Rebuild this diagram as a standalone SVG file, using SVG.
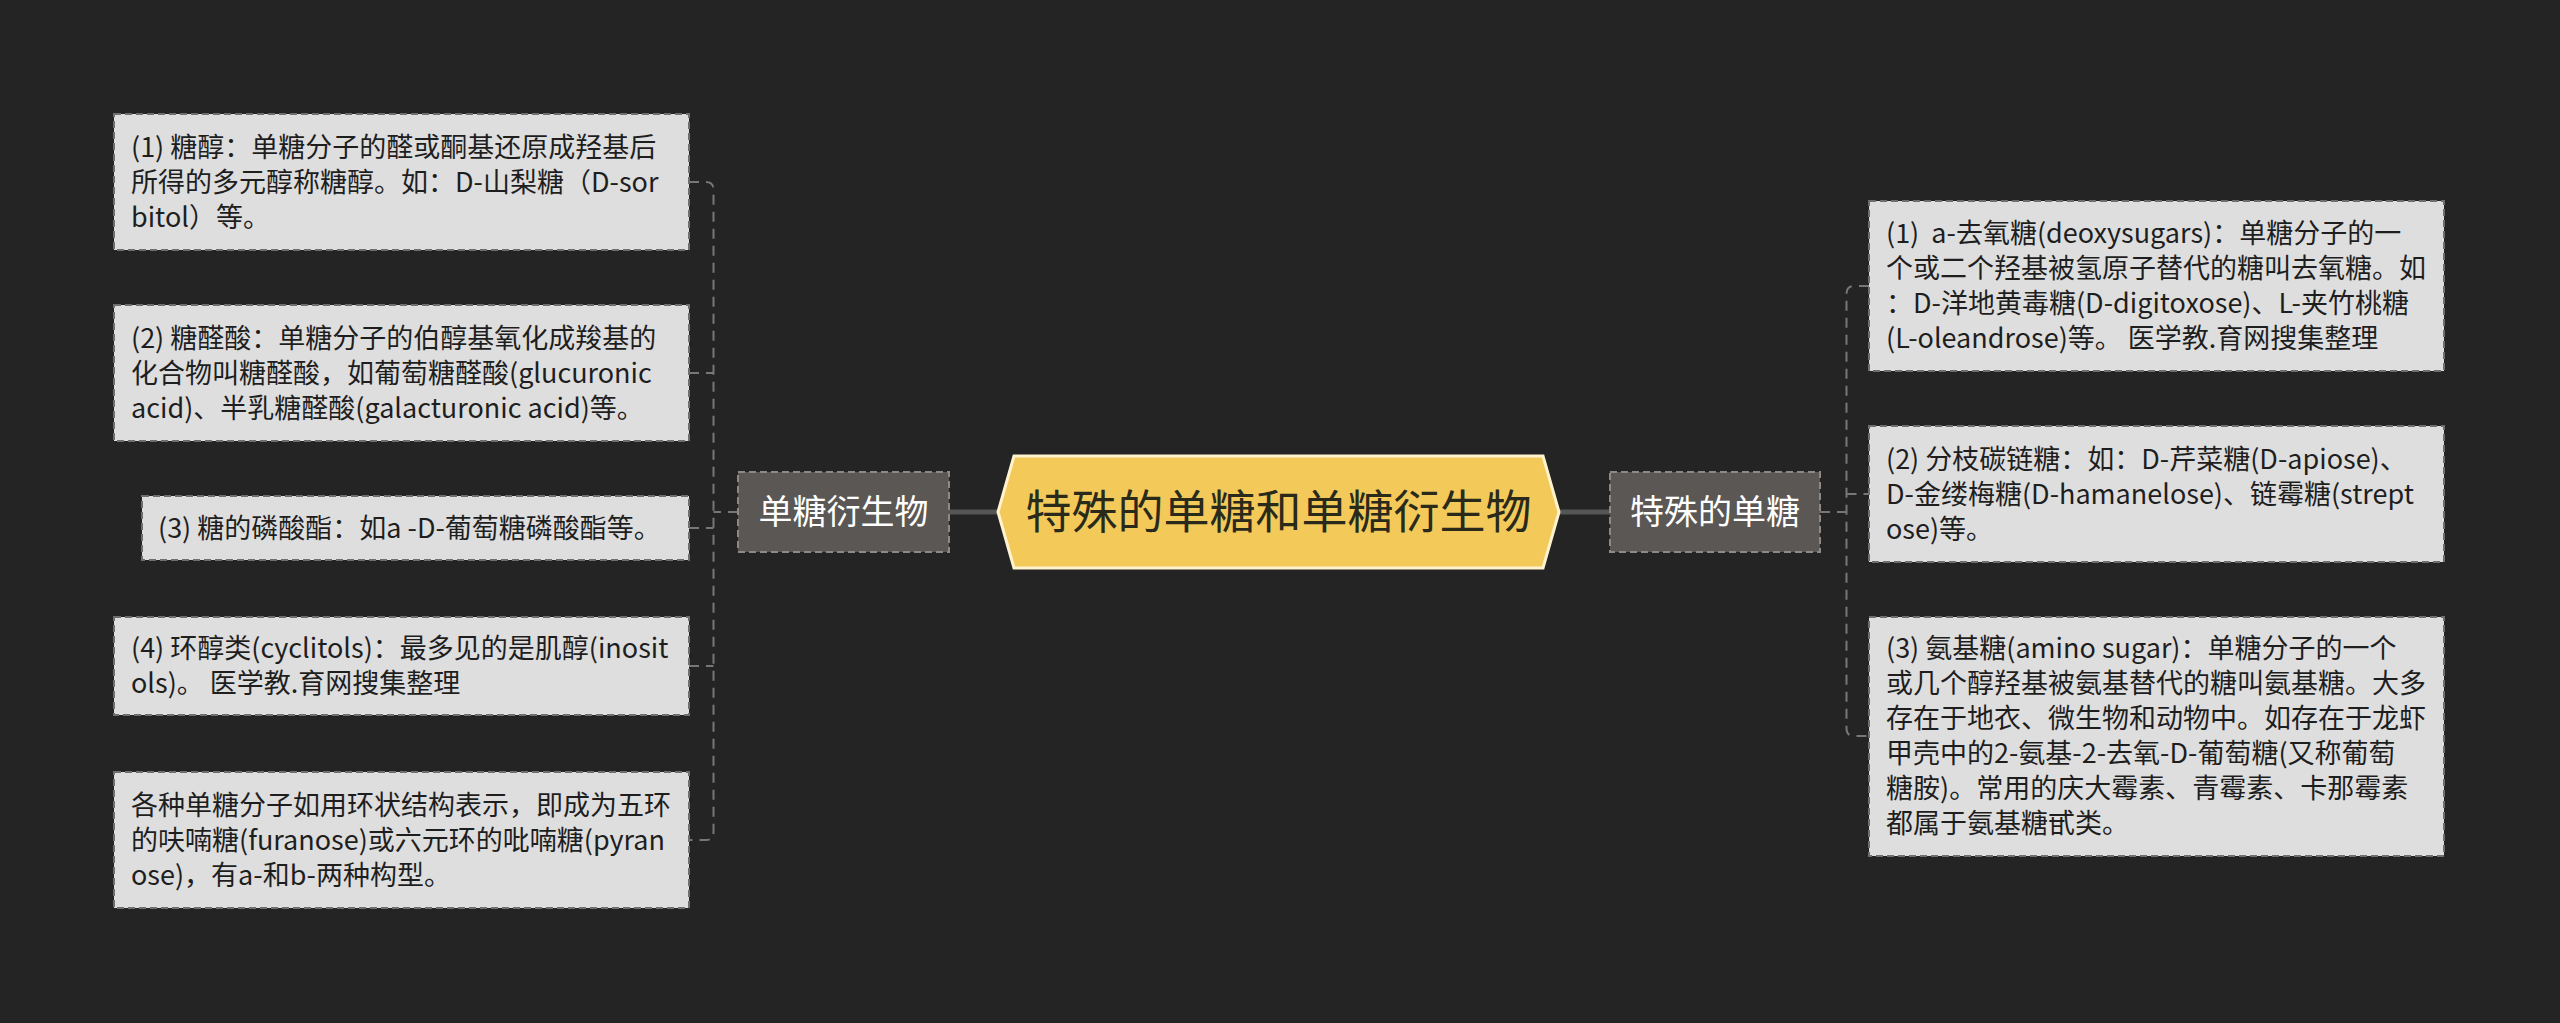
<svg xmlns="http://www.w3.org/2000/svg" width="2560" height="1023" viewBox="0 0 2560 1023">
<style>
.bg{fill:#242424}
.leaf{fill:#dedede;stroke:#6e6e6e;stroke-width:2;stroke-dasharray:7 4}
.lt{font-family:"Noto Sans CJK SC","Noto Sans",sans-serif;font-size:27px;fill:#1e1e1e}
.mid{fill:#5a5755;stroke:#8c8986;stroke-width:2;stroke-dasharray:7 4}
.mt{font-family:"Noto Sans CJK SC","Noto Sans",sans-serif;font-size:34px;fill:#ffffff;text-anchor:middle}
.ct{font-family:"Noto Sans CJK SC","Noto Sans",sans-serif;font-size:46px;fill:#2a2a1a;text-anchor:middle}
.dash{fill:none;stroke:#777;stroke-width:2;stroke-dasharray:10 7}
.thick{fill:none;stroke:#555;stroke-width:5}
</style>
<rect class="bg" x="0" y="0" width="2560" height="1023"/>
<g id="connectors">
<line class="thick" x1="949" y1="512" x2="998" y2="512"/>
<line class="thick" x1="1559" y1="512" x2="1610" y2="512"/>
<path class="dash" d="M738 512 H713.5 M689 182 H706 Q713.5 182 713.5 190 V832 Q713.5 840 706 840 H689 M689 373 H713.5 M689 528 H713.5 M689 666 H713.5"/>
<path class="dash" d="M1820 512 H1846.5 M1869 286 H1854 Q1846.5 286 1846.5 294 V728 Q1846.5 736 1854 736 H1869 M1846.5 494 H1869"/>
</g>
<g id="center">
<polygon points="998,512 1014,456 1543,456 1559,512 1543,568 1014,568" fill="#f3c95a" stroke="#fff3cf" stroke-width="3"/>
<text class="ct" x="1278.5" y="528">特殊的单糖和单糖衍生物</text>
</g>
<g id="node-left">
<rect class="mid" x="738" y="472" width="211" height="80"/>
<text class="mt" x="843.5" y="524">单糖衍生物</text>
</g>
<g id="node-right">
<rect class="mid" x="1610" y="472" width="210" height="80"/>
<text class="mt" x="1715" y="524">特殊的单糖</text>
</g>
<g id="leaf-l1">
<rect class="leaf" x="114" y="114" width="575" height="136"/>
<text class="lt" xml:space="preserve"><tspan x="131" y="157">(1) 糖醇：单糖分子的醛或酮基还原成羟基后</tspan><tspan x="131" y="192">所得的多元醇称糖醇。如：D-山梨糖（D-sor</tspan><tspan x="131" y="227">bitol）等。</tspan></text>
</g>
<g id="leaf-l2">
<rect class="leaf" x="114" y="305" width="575" height="136"/>
<text class="lt" xml:space="preserve"><tspan x="131" y="348">(2) 糖醛酸：单糖分子的伯醇基氧化成羧基的</tspan><tspan x="131" y="383">化合物叫糖醛酸，如葡萄糖醛酸(glucuronic</tspan><tspan x="131" y="418">acid)、半乳糖醛酸(galacturonic acid)等。</tspan></text>
</g>
<g id="leaf-l3">
<rect class="leaf" x="142" y="496" width="547" height="64"/>
<text class="lt" xml:space="preserve"><tspan x="158" y="538">(3) 糖的磷酸酯：如a -D-葡萄糖磷酸酯等。</tspan></text>
</g>
<g id="leaf-l4">
<rect class="leaf" x="114" y="617" width="575" height="98"/>
<text class="lt" xml:space="preserve"><tspan x="131" y="658">(4) 环醇类(cyclitols)：最多见的是肌醇(inosit</tspan><tspan x="131" y="693">ols)。 医学教.育网搜集整理</tspan></text>
</g>
<g id="leaf-l5">
<rect class="leaf" x="114" y="772" width="575" height="136"/>
<text class="lt" xml:space="preserve"><tspan x="131" y="815">各种单糖分子如用环状结构表示，即成为五环</tspan><tspan x="131" y="850">的呋喃糖(furanose)或六元环的吡喃糖(pyran</tspan><tspan x="131" y="885">ose)，有a-和b-两种构型。</tspan></text>
</g>
<g id="leaf-r1">
<rect class="leaf" x="1869" y="201" width="575" height="170"/>
<text class="lt" xml:space="preserve"><tspan x="1886" y="243">(1)  a-去氧糖(deoxysugars)：单糖分子的一</tspan><tspan x="1886" y="278">个或二个羟基被氢原子替代的糖叫去氧糖。如</tspan><tspan x="1886" y="313">：D-洋地黄毒糖(D-digitoxose)、L-夹竹桃糖</tspan><tspan x="1886" y="348">(L-oleandrose)等。 医学教.育网搜集整理</tspan></text>
</g>
<g id="leaf-r2">
<rect class="leaf" x="1869" y="426" width="575" height="136"/>
<text class="lt" xml:space="preserve"><tspan x="1886" y="469">(2) 分枝碳链糖：如：D-芹菜糖(D-apiose)、</tspan><tspan x="1886" y="504">D-金缕梅糖(D-hamanelose)、链霉糖(strept</tspan><tspan x="1886" y="539">ose)等。</tspan></text>
</g>
<g id="leaf-r3">
<rect class="leaf" x="1869" y="617" width="575" height="239"/>
<text class="lt" xml:space="preserve"><tspan x="1886" y="658">(3) 氨基糖(amino sugar)：单糖分子的一个</tspan><tspan x="1886" y="693">或几个醇羟基被氨基替代的糖叫氨基糖。大多</tspan><tspan x="1886" y="728">存在于地衣、微生物和动物中。如存在于龙虾</tspan><tspan x="1886" y="763">甲壳中的2-氨基-2-去氧-D-葡萄糖(又称葡萄</tspan><tspan x="1886" y="798">糖胺)。常用的庆大霉素、青霉素、卡那霉素</tspan><tspan x="1886" y="833">都属于氨基糖甙类。</tspan></text>
</g>
</svg>
